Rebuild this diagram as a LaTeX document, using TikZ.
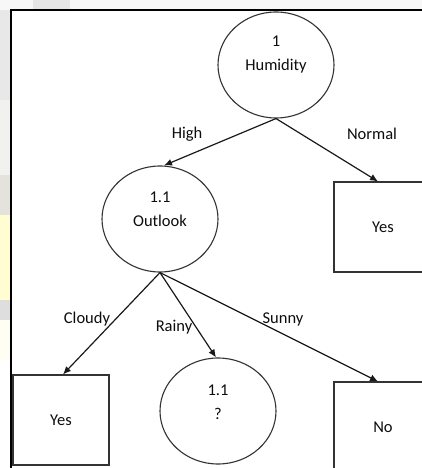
\documentclass[tikz,border=0pt]{standalone}
\usepackage{fontspec}
\setmainfont{Carlito}
\usetikzlibrary{arrows.meta,shapes.geometric}

\tikzset{
  every node/.style={font=\fontsize{16.5}{24}\selectfont, text=black!95},
  decision/.style={ellipse, draw=black!80, line width=1.1pt,
    minimum width=116pt, minimum height=106pt, inner sep=0pt},
  leaf/.style={rectangle, draw=black!80, line width=1.1pt,
    minimum height=90pt, inner sep=0pt},
  branch/.style={draw=black!90, line width=1.2pt, -{Latex[length=8pt,width=7pt]}},
  edgetext/.style={inner sep=0pt}
}

\begin{document}
\begin{tikzpicture}[x=1pt,y=-1pt]
\useasboundingbox (0,0) rectangle (422,468);
\clip (0,0) rectangle (422,468);

% soft page margin outside the frame
\fill[white] (0,0) rectangle (422,468);
\fill[black!3] (0,0) rectangle (422,10);
\fill[black!10] (33,0) rectangle (70,9);
\fill[black!9] (0,10) rectangle (10,100);
\fill[yellow!8!black!7] (0,100) rectangle (10,175);
\fill[yellow!15!black!15] (0,175) rectangle (10,215);
\fill[yellow!18] (0,215) rectangle (10,300);
\fill[black!13] (0,300) rectangle (10,320);
\fill[yellow!5] (0,320) rectangle (10,360);

% frame
\draw[black, line width=1.6pt] (11,470) -- (11,10) -- (424,10);

% decision nodes
\node[decision, label={[align=center, yshift=10pt]center:1\\Humidity}] (hum) at (276,65) {};
\node[decision, label={[align=center, yshift=10pt]center:1.1\\Outlook}] (out) at (160,219) {};
\node[decision, label={[align=center, yshift=9pt]center:1.1\\?}] (unk) at (218,411) {};

% leaf nodes
\node[leaf, minimum width=98pt] (yesN) at (383,227) {Yes};
\node[leaf, minimum width=96pt] (yesC) at (61,420) {Yes};
\node[leaf, minimum width=98pt] (noS) at (383,427) {No};

% branches
\draw[branch] (hum.south) -- ([xshift=4pt]out.north);
\draw[branch] (hum.south) -- ([xshift=-5pt]yesN.north);
\draw[branch] (out.south) -- ([xshift=2pt]yesC.north);
\draw[branch] (out.south) -- ([xshift=-2pt]unk.north);
\draw[branch] (out.south) -- ([xshift=-5pt]noS.north);

% branch labels
\node[edgetext] (lHigh) at (187,134) {High};
\node[edgetext] (lNormal) at (372,134) {Normal};
\node[edgetext] (lCloudy) at (87,319) {Cloudy};
\node[edgetext] (lRainy) at (174,327) {Rainy};
\node[edgetext] (lSunny) at (283,319) {Sunny};
\end{tikzpicture}
\end{document}
